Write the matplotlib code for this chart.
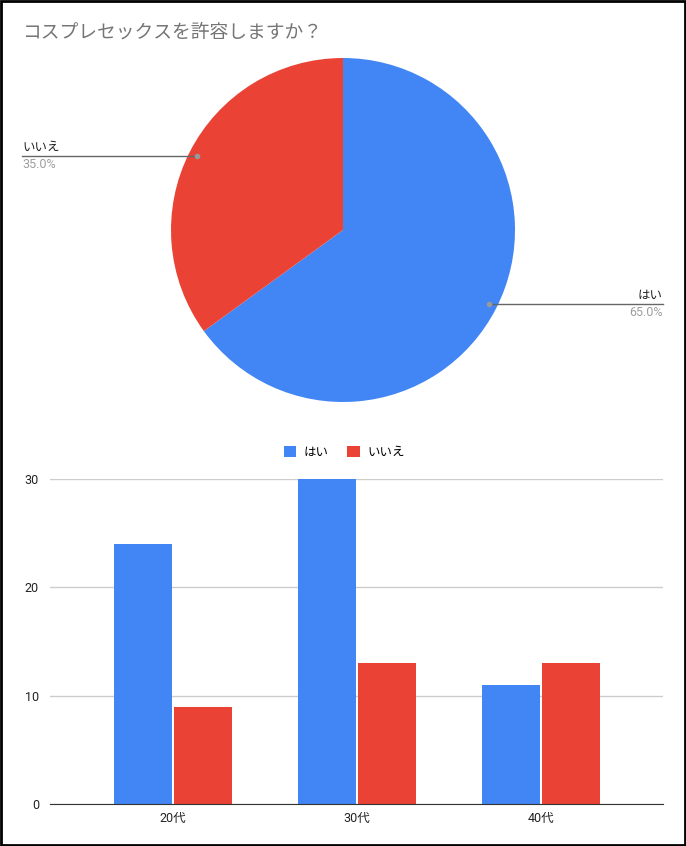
import numpy as np
import matplotlib.pyplot as plt
from matplotlib.patches import Rectangle

plt.rcParams['font.family'] = ['Roboto', 'Noto Sans CJK JP', 'DejaVu Sans']

title = 'コスプレセックスを許容しますか？'
pie_labels = ['はい', 'いいえ']
pie_values = [65.0, 35.0]
ages = ['20代', '30代', '40代']
yes_counts = [24, 30, 11]
no_counts = [9, 13, 13]

BLUE = '#4285F4'
RED = '#EA4335'

W, H = 686, 846
fig = plt.figure(figsize=(W / 100, H / 100), dpi=100)

# overlay axes in pixel coordinates (y up)
ov = fig.add_axes([0, 0, 1, 1])

wedges, _ = ov.pie(pie_values, colors=[BLUE, RED], startangle=90, counterclock=False,
                   center=(343, H - 230), radius=172, frame=True)
ov.set_xlim(0, W)
ov.set_ylim(0, H)
ov.set_aspect('auto')
ov.axis('off')

# outer border
ov.add_patch(Rectangle((1, 1), W - 2, H - 2, fill=False, edgecolor='black', lw=2))

ov.text(22, H - 33, title, fontsize=13.5, color='#757575', va='center', ha='left')

# pie leader lines
for w, lab, val in zip(wedges, pie_labels, pie_values):
    ang = np.deg2rad((w.theta1 + w.theta2) / 2)
    px = 343 + 0.95 * 172 * np.cos(ang)
    py = H - 230 + 0.95 * 172 * np.sin(ang)
    if np.cos(ang) < 0:
        xe, ha = 22, 'left'
    else:
        xe, ha = 663, 'right'
    ov.plot([px, xe], [py, py], color='#666666', lw=1)
    ov.plot([px], [py], 'o', color='#999999', ms=3)
    ov.text(xe, py + 2, lab, fontsize=9, color='#222222', ha=ha, va='bottom')
    ov.text(xe, py - 2, f'{val:.1f}%', fontsize=9, color='#9e9e9e', ha=ha, va='top')

# bar chart
ax = fig.add_axes([50 / W, (H - 804) / H, 613 / W, (804 - 479) / H])
x = np.arange(len(ages))
bw = 0.315
ax.bar(x - 0.163, yes_counts, bw, color=BLUE, label='はい', zorder=3)
ax.bar(x + 0.163, no_counts, bw, color=RED, label='いいえ', zorder=3)
ax.set_xlim(-0.668, 2.663)
ax.set_ylim(0, 30)
ax.set_yticks([0, 10, 20, 30])
ax.set_xticks(x)
ax.set_xticklabels(ages)
ax.grid(axis='y', color='#cccccc', lw=1, zorder=0)
for s in ['top', 'right', 'left']:
    ax.spines[s].set_visible(False)
ax.spines['bottom'].set_color('#333333')
ax.spines['bottom'].set_zorder(4)
ax.tick_params(axis='both', length=0, labelsize=9, colors='#222222')
ax.tick_params(axis='y', pad=8)
ax.tick_params(axis='x', pad=6)
ax.legend(loc='lower center', bbox_to_anchor=(0.48, 1.028), ncol=2, frameon=False,
          fontsize=9, handlelength=1.0, handleheight=1.0, columnspacing=1.5,
          handletextpad=0.6)

fig.savefig('out.png', dpi=100)
